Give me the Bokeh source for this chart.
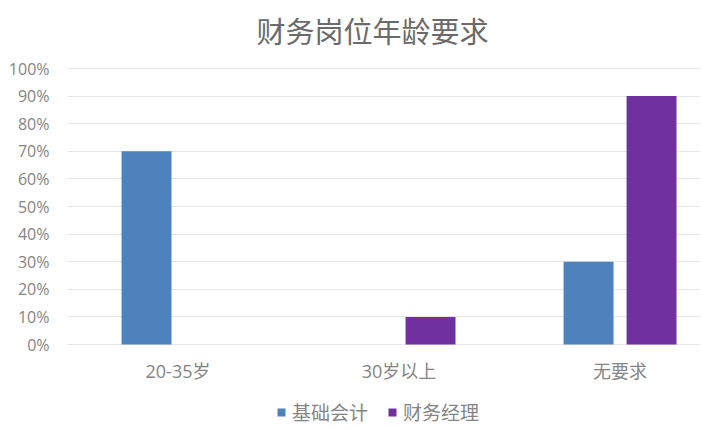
from bokeh.plotting import figure
from bokeh.models import (ColumnDataSource, Range1d, FixedTicker, NumeralTickFormatter,
                          Legend, LegendItem, Label)
from bokeh.transform import dodge
from bokeh.embed import file_html
from bokeh.resources import INLINE

# ---- data ----
categories = ["20-35岁", "30岁以上", "无要求"]
series_names = ["基础会计", "财务经理"]
basic_accounting = [0.70, 0.00, 0.30]
finance_manager = [0.00, 0.10, 0.90]
y_ticks = [0.0, 0.1, 0.2, 0.3, 0.4, 0.5, 0.6, 0.7, 0.8, 0.9, 1.0]
title_text = "财务岗位年龄要求"

colors = ["#4F81BD", "#7030A0"]
font_main = "Open Sans, Noto Sans CJK SC"
font_cjk = "Noto Sans CJK SC"
text_gray = "#858585"

xs = [i + 0.5 for i in range(len(categories))]
src = ColumnDataSource(dict(x=xs, a=basic_accounting, b=finance_manager))

W, H = 700, 427
p = figure(width=W, height=H, output_backend="svg", toolbar_location=None,
           x_range=Range1d(0, 2.864), y_range=Range1d(-0.3007, 1.2464),
           min_border_left=67, min_border_right=0, min_border_top=0,
           min_border_bottom=0)
p.background_fill_color = "white"
p.border_fill_color = "white"
p.outline_line_color = None

bw = 0.226
off = 0.1425
r1 = p.vbar(x=dodge("x", -off), top="a", width=bw, source=src,
            fill_color=colors[0], line_color=None)
r2 = p.vbar(x=dodge("x", off), top="b", width=bw, source=src,
            fill_color=colors[1], line_color=None)

# title (drawn inside the extended frame, above the 100% line)
title = Label(x=1.38, y=1.1395, text=title_text, text_align="center",
              text_baseline="middle", text_font=font_cjk, text_font_size="29px",
              text_color="#6a6a6a")
p.add_layout(title)

# y axis
p.yaxis.ticker = FixedTicker(ticks=y_ticks)
p.yaxis.formatter = NumeralTickFormatter(format="0%")
p.yaxis.axis_line_color = None
p.yaxis.major_tick_line_color = None
p.yaxis.minor_tick_line_color = None
p.yaxis.major_tick_out = 0
p.yaxis.major_tick_in = 0
p.yaxis.major_label_standoff = 18
p.yaxis.major_label_text_font = font_main
p.yaxis.major_label_text_font_size = "16px"
p.yaxis.major_label_text_color = text_gray

# x axis (placed at the 0% line)
p.xaxis.fixed_location = 0
p.xaxis.ticker = FixedTicker(ticks=xs)
p.xaxis.major_label_overrides = {x: c for x, c in zip(xs, categories)}
p.xaxis.axis_line_color = None
p.xaxis.major_tick_line_color = None
p.xaxis.minor_tick_line_color = None
p.xaxis.major_tick_out = 0
p.xaxis.major_tick_in = 0
p.xaxis.major_label_standoff = 14
p.xaxis.major_label_text_font = font_main
p.xaxis.major_label_text_font_size = "18px"
p.xaxis.major_label_text_font_style = "normal"
p.xaxis.major_label_text_color = text_gray

# grid
p.xgrid.grid_line_color = None
p.ygrid.ticker = FixedTicker(ticks=y_ticks)
p.ygrid.grid_line_color = "#e6e6e6"
p.ygrid.grid_line_width = 1

# legend
legend = Legend(items=[LegendItem(label=series_names[0], renderers=[r1]),
                       LegendItem(label=series_names[1], renderers=[r2])],
                orientation="horizontal", location=(209, 2),
                glyph_width=10, glyph_height=10, label_standoff=6, spacing=19,
                padding=0, margin=0, border_line_color=None,
                background_fill_alpha=0,
                label_text_font=font_cjk, label_text_font_size="19px",
                label_text_color=text_gray)
p.add_layout(legend, "center")

open("out.html", "w").write(file_html(p, INLINE))
